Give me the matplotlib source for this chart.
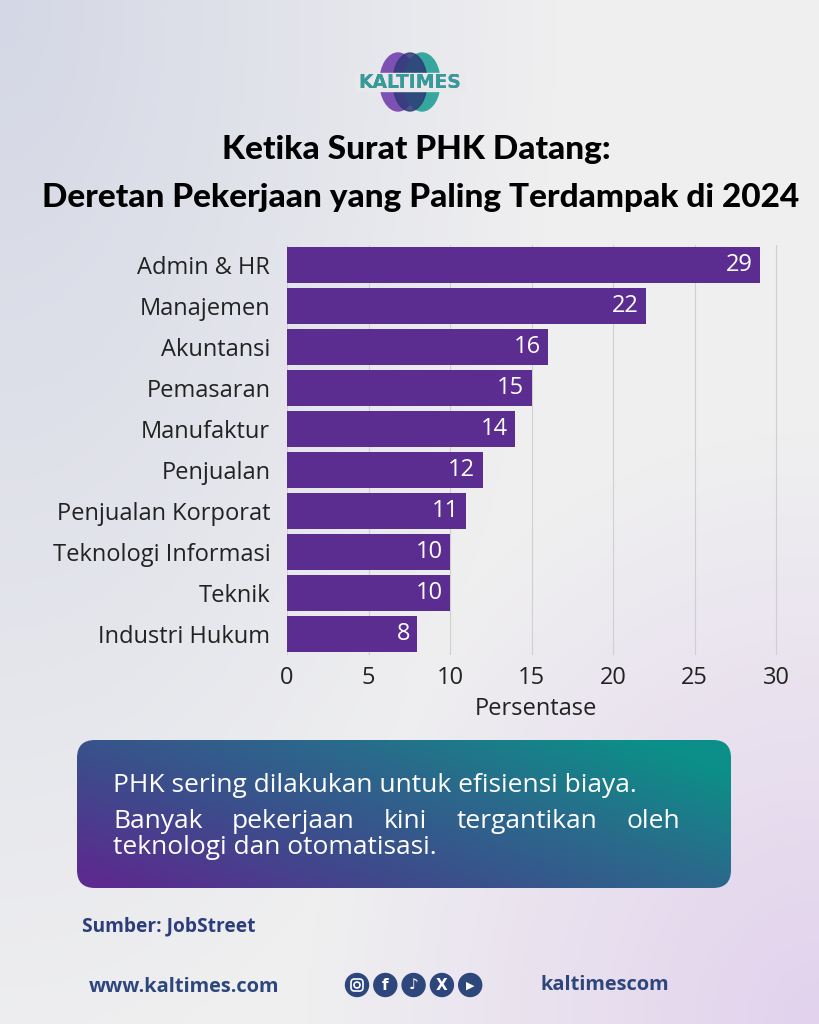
import numpy as np
import matplotlib
matplotlib.use("Agg")
import matplotlib.pyplot as plt
from matplotlib.patches import FancyBboxPatch, Circle, Ellipse, Rectangle
from matplotlib.colors import LinearSegmentedColormap

# data
categories = ["Admin & HR", "Manajemen", "Akuntansi", "Pemasaran", "Manufaktur",
              "Penjualan", "Penjualan Korporat", "Teknologi Informasi", "Teknik",
              "Industri Hukum"]
values = [29, 22, 16, 15, 14, 12, 11, 10, 10, 8]
x_ticks = [0, 5, 10, 15, 20, 25, 30]
x_label = "Persentase"

title_lines = ["Ketika Surat PHK Datang:",
               "Deretan Pekerjaan yang Paling Terdampak di 2024"]
note_line1 = "PHK sering dilakukan untuk efisiensi biaya."
note_line2 = ["Banyak", "pekerjaan", "kini", "tergantikan", "oleh"]
note_line3 = "teknologi dan otomatisasi."
source_text = "Sumber: JobStreet"
website = "www.kaltimes.com"
handle = "kaltimescom"
icon_glyphs = ["", "f", "\u266a", "X", "\u25b6"]

W, H = 819, 1024
BAR_COLOR = "#5c2d91"
NAVY = "#2d467c"
FONT = "Open Sans"


def main():
    fig = plt.figure(figsize=(W / 100, H / 100), dpi=100)

    # full-figure axes in pixel coordinates for the decorations
    bg = fig.add_axes([0, 0, 1, 1])
    bg.set_axis_off()
    draw_background(bg)
    draw_logo(bg)
    draw_title(bg)
    draw_note(fig, bg)
    draw_footer(bg)
    bg.set_xlim(0, W)
    bg.set_ylim(H, 0)
    bg.set_aspect("auto")

    draw_chart(fig)

    fig.savefig("out.png", dpi=100)


def draw_background(bg):
    yy, xx = np.mgrid[0:1:256j, 0:1:205j]
    base = np.array([239, 239, 240]) / 255
    blue = np.array([212, 215, 229]) / 255
    purp = np.array([226, 210, 237]) / 255
    wb = np.clip(1 - np.hypot(xx * 1.4, yy * 0.9) / 0.95, 0, 1)[..., None]
    wp = np.clip(1 - np.hypot((1 - xx) * 1.2, (1 - yy) * 1.3) / 0.75, 0, 1)[..., None]
    img = base * (1 - wb - wp) + blue * wb + purp * wp
    bg.imshow(np.clip(img, 0, 1), extent=[0, W, H, 0], aspect="auto", zorder=0)


def draw_logo(bg):
    bg.add_patch(Ellipse((398, 82), 36, 58, color="#7d50b4", zorder=2))
    bg.add_patch(Ellipse((422, 82), 36, 58, color="#35a79e", zorder=2))
    bg.add_patch(Ellipse((410, 82), 34, 58, color="#2f3b78", alpha=0.85, zorder=3))
    # light band where the word sits
    bg.add_patch(Rectangle((355, 73), 110, 18, color="#e9e9ec", zorder=4))
    style = dict(ha="center", va="center", fontsize=13.5, fontweight="bold",
                 family="DejaVu Sans")
    bg.text(410, 82.5, "KALTIMES", color="#6a44a6", zorder=5, **style)
    word2 = bg.text(410, 82.5, "KALTIMES", color="#2f9f98", zorder=6, **style)
    clip = Rectangle((416, 60), 60, 40, transform=bg.transData)
    word2.set_clip_path(clip)


def draw_title(bg):
    style = dict(ha="center", va="center", fontsize=24, fontweight="black",
                 family="Lato", color="black")
    bg.text(416, 150, title_lines[0], **style)
    bg.text(421, 197, title_lines[1], **style)


def draw_note(fig, bg):
    x0, y0, w, h = 77, 740, 654, 148
    box = FancyBboxPatch((x0, y0), w, h, boxstyle="round,pad=0,rounding_size=18",
                         facecolor="none", edgecolor="none", zorder=2)
    bg.add_patch(box)
    # diagonal gradient purple (bottom-left) -> teal (top-right)
    v, u = np.mgrid[0:1:100j, 0:1:300j]
    t = np.clip(0.7 * u + 0.45 * (1 - v) - 0.05, 0, 1)
    cmap = LinearSegmentedColormap.from_list(
        "note", ["#5b2b8f", "#3d4c8c", "#2a6a8b", "#0c8f88"])
    im = bg.imshow(t, cmap=cmap, vmin=0, vmax=1, extent=[x0, x0 + w, y0 + h, y0],
                   aspect="auto", zorder=2)
    im.set_clip_path(box)

    style = dict(color="white", fontsize=19, family=FONT, va="center", zorder=3)
    bg.text(113, 785, note_line1, ha="left", **style)
    bg.text(113, 847, note_line3, ha="left", **style)

    # justified line
    renderer = fig.canvas.get_renderer()
    texts = [bg.text(0, 822, word, ha="left", **style) for word in note_line2]
    widths = [t.get_window_extent(renderer).width for t in texts]
    gap = (680 - 113 - sum(widths)) / (len(texts) - 1)
    x = 113
    for txt, wd in zip(texts, widths):
        txt.set_x(x)
        x += wd + gap


def draw_footer(bg):
    bg.text(82, 926, source_text, ha="left", va="center", fontsize=13.8,
            fontweight="bold", family=FONT, color="#2c3d7c")
    bg.text(89, 987, website, ha="left", va="center", fontsize=14.4,
            fontweight="bold", family=FONT, color=NAVY)
    bg.text(540, 985, handle, ha="left", va="center", fontsize=14.4,
            fontweight="bold", family=FONT, color=NAVY)

    for i, glyph in enumerate(icon_glyphs):
        cx = 357 + i * 28.3
        bg.add_patch(Circle((cx, 985), 11.5, color=NAVY, zorder=3))
        if i == 0:
            bg.add_patch(FancyBboxPatch((cx - 6, 979), 12, 12,
                                        boxstyle="round,pad=0,rounding_size=3.5",
                                        facecolor="none", edgecolor="white", lw=1.2, zorder=4))
            bg.add_patch(Circle((cx, 985), 3, facecolor="none", edgecolor="white",
                                lw=1.2, zorder=4))
        else:
            bg.text(cx, 985.5, glyph, ha="center", va="center", color="white",
                    fontsize=11 if i != 4 else 8, fontweight="bold",
                    family="DejaVu Sans", zorder=4)


def draw_chart(fig):
    px_unit = (776 - 287) / 30
    xmax = 30.6
    left = 287 / W
    width = xmax * px_unit / W
    ax = fig.add_axes([left, 1 - 654.5 / H, width, 410 / H])
    ax.patch.set_alpha(0)

    y_pos = np.arange(len(categories))
    ax.barh(y_pos, values, height=0.88, color=BAR_COLOR, zorder=3)
    for i, v in enumerate(values):
        ax.text(v - 0.45, i, str(v), ha="right", va="center", color="white",
                fontsize=17, family=FONT, zorder=4)

    ax.set_xlim(0, xmax)
    ax.set_ylim(len(categories) - 0.5, -0.5)
    ax.set_yticks(y_pos)
    ax.set_yticklabels(categories, fontsize=17, family=FONT, color="#222222")
    ax.set_xticks(x_ticks)
    ax.set_xticklabels([str(t) for t in x_ticks], fontsize=17, family=FONT, color="#222222")
    ax.tick_params(axis="y", length=0, pad=12)
    ax.tick_params(axis="x", length=0, pad=8)
    ax.set_xlabel(x_label, fontsize=17, family=FONT, color="#222222", labelpad=5)

    ax.xaxis.grid(True, color="#cfcfcf", lw=0.8)
    ax.set_axisbelow(True)
    for spine in ax.spines.values():
        spine.set_visible(False)


if __name__ == "__main__":
    main()
